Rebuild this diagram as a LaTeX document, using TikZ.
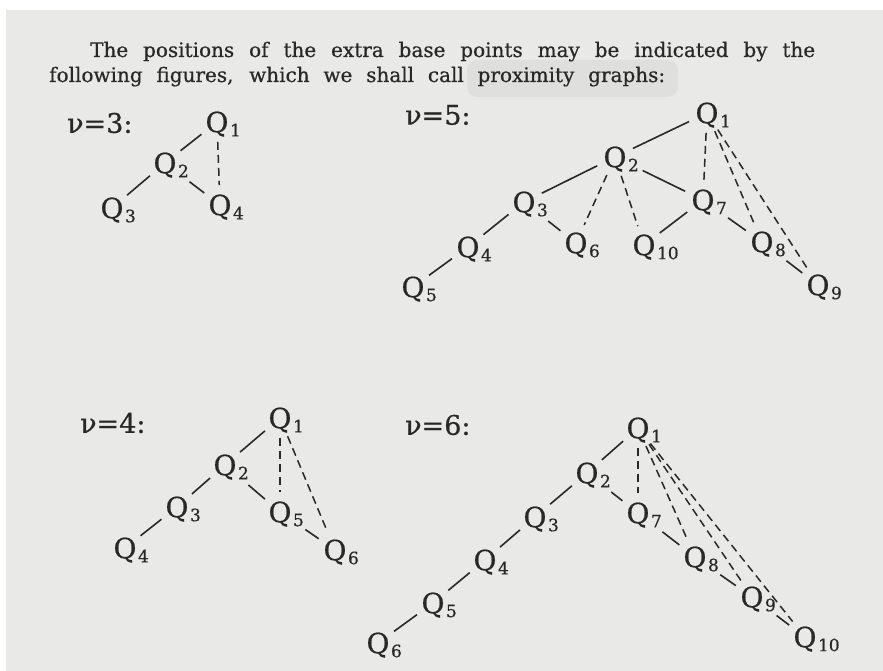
\documentclass[tikz,border=0pt]{standalone}
\usepackage{fontspec}
\setmainfont{DejaVu Serif}[FakeBold=0.6]
\definecolor{page}{RGB}{233,233,231}
\definecolor{blob}{RGB}{223,223,221}
\definecolor{ink}{RGB}{40,40,40}
\tikzset{
  q/.style={circle, inner sep=1pt, outer sep=3pt, text=ink, text height=20.5pt, text depth=0pt,
            font=\fontsize{28}{28}\selectfont},
  sub/.style={label={[text=ink, inner sep=0pt, anchor=west, xshift=-7pt, yshift=-8pt,
            font=\fontsize{17}{17}\selectfont]east:#1}},
  nulab/.style={anchor=west, text=ink, font=\fontsize{27}{27}\selectfont, inner sep=0pt},
  bodyline/.style={anchor=base west, text=ink, font=\fontsize{20}{20}\selectfont, inner sep=0pt},
  solidedge/.style={draw=ink, line width=1.6pt},
  dashedge/.style={draw=ink, line width=1.5pt, dash pattern=on 8pt off 5pt},
  aftersub/.style={shorten <=11pt}
}
\begin{document}
\begin{tikzpicture}[x=1pt,y=-1pt]
\useasboundingbox (0,0) rectangle (883,671);
\fill[white] (0,0) rectangle (883,671);
\fill[page] (6,10) rectangle (883,671);
\fill[blob, rounded corners=10pt] (467,60) rectangle (678,97);
% text
\node[bodyline] (line1) at (90,57) {\makebox[725pt][s]{The positions of the extra base points may be indicated by the}};
\node[bodyline] (line2) at (49,82) {\makebox[616pt][s]{following figures, which we shall call proximity graphs:}};
% nu = 3
\node[nulab] (l3) at (67,123) {ν=3:};
\node[q, sub=1] (a1) at (217,122) {Q};
\node[q, sub=2] (a2) at (165,163) {Q};
\node[q, sub=3] (a3) at (112,208) {Q};
\node[q, sub=4] (a4) at (220,205) {Q};
\draw[solidedge] (a1) -- (a2);
\draw[solidedge] (a2) -- (a3);
\draw[solidedge, aftersub] (a2) -- (a4);
\draw[dashedge] (a1) -- (a4);
% nu = 5
\node[nulab] (l5) at (405,115) {ν=5:};
\node[q, sub=1] (b1) at (707,113) {Q};
\node[q, sub=2] (b2) at (615,157) {Q};
\node[q, sub=3] (b3) at (524,202) {Q};
\node[q, sub=4] (b4) at (468,247) {Q};
\node[q, sub=5] (b5) at (413,287) {Q};
\node[q, sub=6] (b6) at (576,243) {Q};
\node[q, sub=10] (b10) at (644,245) {Q};
\node[q, sub=7] (b7) at (703,200) {Q};
\node[q, sub=8] (b8) at (762,242) {Q};
\node[q, sub=9] (b9) at (818,285) {Q};
\draw[solidedge] (b1) -- (b2);
\draw[solidedge] (b2) -- (b3);
\draw[solidedge] (b3) -- (b4);
\draw[solidedge] (b4) -- (b5);
\draw[solidedge, aftersub] (b3) -- (b6);
\draw[solidedge, aftersub] (b2) -- (b7);
\draw[solidedge] (b7) -- (b10);
\draw[solidedge, aftersub] (b7) -- (b8);
\draw[solidedge, aftersub] (b8) -- (b9);
\draw[dashedge] (b2) -- (b6);
\draw[dashedge] (b2) -- (b10);
\draw[dashedge] (b1) -- (b7);
\draw[dashedge] (b1) -- (b8);
\draw[dashedge] (b1) -- (b9);
% nu = 4
\node[nulab] (l4) at (80,423) {ν=4:};
\node[q, sub=1] (c1) at (280,418) {Q};
\node[q, sub=2] (c2) at (225,465) {Q};
\node[q, sub=3] (c3) at (177,507) {Q};
\node[q, sub=4] (c4) at (125,548) {Q};
\node[q, sub=5] (c5) at (280,512) {Q};
\node[q, sub=6] (c6) at (335,550) {Q};
\draw[solidedge] (c1) -- (c2);
\draw[solidedge] (c2) -- (c3);
\draw[solidedge] (c3) -- (c4);
\draw[solidedge, aftersub] (c2) -- (c5);
\draw[solidedge, aftersub] (c5) -- (c6);
\draw[dashedge] (c1) -- (c5);
\draw[dashedge] (c1) -- (c6);
% nu = 6
\node[nulab] (l6) at (405,425) {ν=6:};
\node[q, sub=1] (d1) at (638,428) {Q};
\node[q, sub=2] (d2) at (587,473) {Q};
\node[q, sub=3] (d3) at (535,517) {Q};
\node[q, sub=4] (d4) at (485,560) {Q};
\node[q, sub=5] (d5) at (433,603) {Q};
\node[q, sub=6] (d6) at (378,643) {Q};
\node[q, sub=7] (d7) at (638,513) {Q};
\node[q, sub=8] (d8) at (695,557) {Q};
\node[q, sub=9] (d9) at (752,597) {Q};
\node[q, sub=10] (d10) at (805,637) {Q};
\draw[solidedge] (d1) -- (d2);
\draw[solidedge] (d2) -- (d3);
\draw[solidedge] (d3) -- (d4);
\draw[solidedge] (d4) -- (d5);
\draw[solidedge] (d5) -- (d6);
\draw[solidedge, aftersub] (d2) -- (d7);
\draw[solidedge, aftersub] (d7) -- (d8);
\draw[solidedge, aftersub] (d8) -- (d9);
\draw[solidedge, aftersub] (d9) -- (d10);
\draw[dashedge] (d1) -- (d7);
\draw[dashedge] (d1) -- (d8);
\draw[dashedge] (d1) -- (d9);
\draw[dashedge] (d1) -- (d10);
\end{tikzpicture}
\end{document}
